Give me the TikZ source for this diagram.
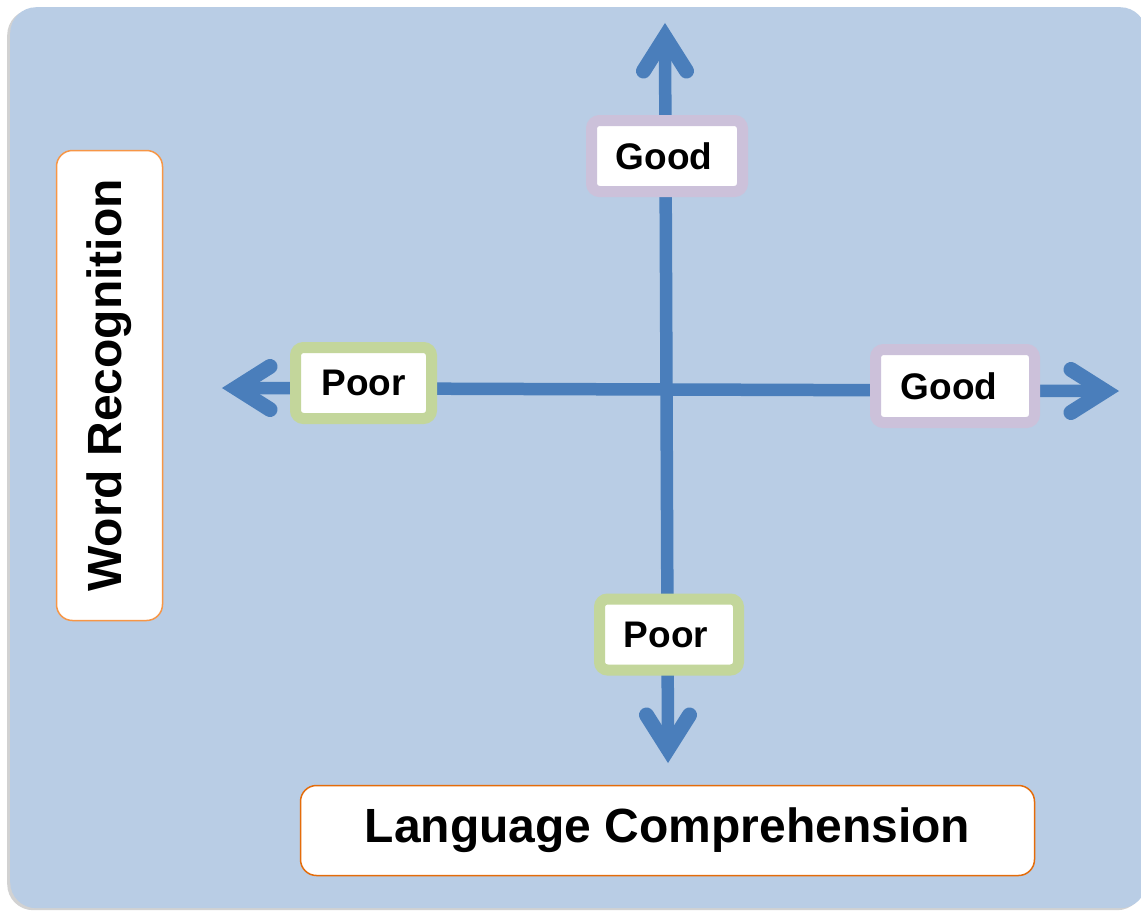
\documentclass[tikz,border=0pt]{standalone}
\usepackage{fontspec}
\setmainfont{Liberation Sans}
\usetikzlibrary{shadows}
\definecolor{bgblue}{HTML}{B9CDE5}
\definecolor{axisblue}{HTML}{4A7EBB}
\definecolor{lavender}{HTML}{CCC1DA}
\definecolor{lightgreen}{HTML}{C3D69B}
\definecolor{orangeA}{HTML}{F79646}
\definecolor{orangeB}{HTML}{E46C0A}
\tikzset{
  axis/.style={draw=axisblue, line width=12.5pt},
  head/.pic={\draw[axisblue, line width=15pt, line cap=round, line join=miter] (-34,-21.5) -- (0,0) -- (-34,21.5);},
  tag/.style={fill=white, line width=11pt, rounded corners=8pt, inner sep=0pt,
    minimum width=#1, minimum height=71pt, font=\fontsize{37}{42}\selectfont\bfseries},
  goodtag/.style={tag=#1, draw=lavender},
  poortag/.style={tag=#1, draw=lightgreen},
  titlebox/.style={fill=white, rounded corners=16pt, inner sep=0pt,
    font=\fontsize{48}{54}\selectfont\bfseries}
}
\begin{document}
\begin{tikzpicture}[x=1pt,y=-1pt]
  \useasboundingbox (0,0) rectangle (1141,911);
  \fill[white] (0,0) rectangle (1141,911);
  \node[draw=none, fill=bgblue, rounded corners=26pt, minimum width=1136pt, minimum height=901pt,
        drop shadow={shadow xshift=-3pt, shadow yshift=-2pt, opacity=0.35, fill=gray}, anchor=north west, inner sep=0pt]
        (bg) at (10,7) {};
  % axes (coordinates at the inner point of each arrow tip)
  \coordinate (T) at (665,37);
  \coordinate (B) at (668,749);
  \coordinate (L) at (236,388);
  \coordinate (R) at (1105,391);
  \draw[axis] (B) -- (T);
  \draw[axis] (L) -- (R);
  \pic[rotate=90] at (T) {head};
  \pic[rotate=-90] at (B) {head};
  \pic[rotate=180] at (L) {head};
  \pic at (R) {head};
  % tags
  \node[goodtag=151pt] (good1) at (667,156) {\hspace*{-6pt}Good};
  \node[poortag=136pt] (poor1) at (363.5,383) {Poor};
  \node[goodtag=159pt, minimum height=73pt] (good2) at (955,386) {\hspace*{-12pt}Good};
  \node[poortag=139pt] (poor2) at (669,634.5) {\hspace*{-6pt}Poor};
  % titles
  \node[titlebox, draw=orangeA, line width=1.5pt, minimum width=106pt, minimum height=470pt] (wr) at (109.5,385.5) {};
  \node[rotate=90, font=\fontsize{48}{54}\selectfont\bfseries] (wrt) at (wr.center) {Word Recognition};
  \node[titlebox, draw=orangeB, line width=1.5pt, minimum width=734pt, minimum height=90pt] (lc) at (667.5,830.5) {Language Comprehension};
\end{tikzpicture}
\end{document}
